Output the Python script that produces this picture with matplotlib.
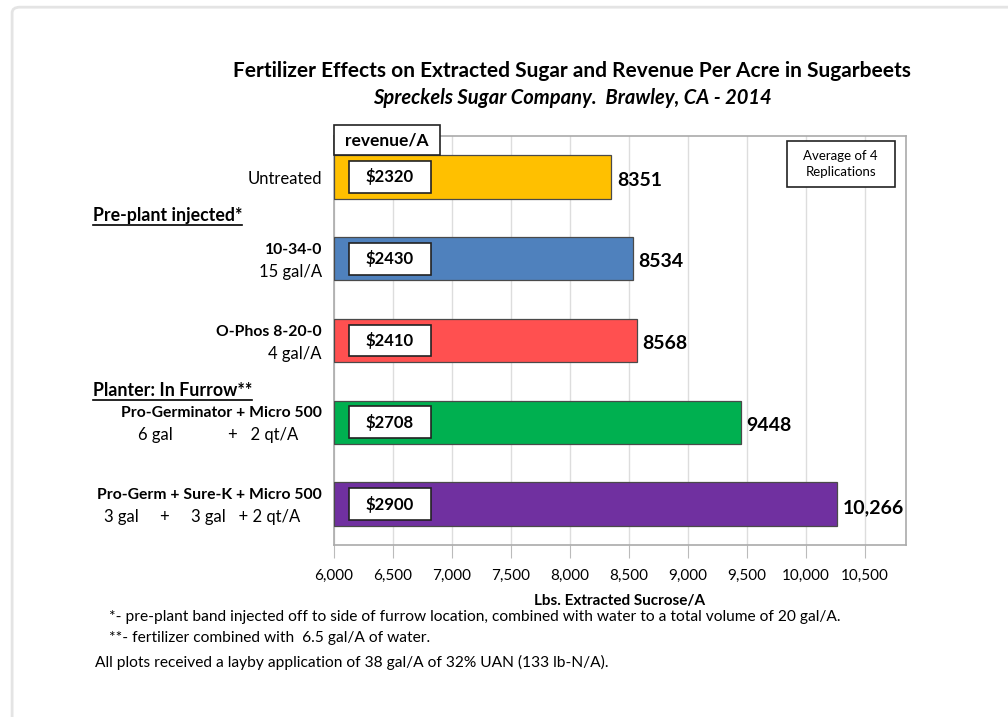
import matplotlib
matplotlib.use("Agg")
import matplotlib.pyplot as plt
from matplotlib.patches import Rectangle, FancyBboxPatch
from matplotlib.lines import Line2D

plt.rcParams['font.family'] = ['Lato', 'DejaVu Sans']

# data
line1 = ["Untreated", "10-34-0", "O-Phos 8-20-0", "Pro-Germinator + Micro 500", "Pro-Germ + Sure-K + Micro 500"]
line2 = ["", "15 gal/A", "4 gal/A", "6 gal             +   2 qt/A", "3 gal     +     3 gal   + 2 qt/A"]
sucrose = [8351, 8534, 8568, 9448, 10266]
sucrose_labels = ["8351", "8534", "8568", "9448", "10,266"]
revenue = [2320, 2430, 2410, 2708, 2900]
colors = ["#FFC000", "#4F81BD", "#FF5050", "#00B050", "#7030A0"]
xticks = [6000, 6500, 7000, 7500, 8000, 8500, 9000, 9500, 10000, 10500]

fig = plt.figure(figsize=(10.08, 7.17), dpi=100)
fig.patch.set_facecolor("white")

# light card frame
fig.add_artist(FancyBboxPatch((0.012, -0.05), 1.1, 1.04, boxstyle="round,pad=0,rounding_size=0.008",
                              transform=fig.transFigure, facecolor="none", edgecolor="#e4e4e4", lw=2,
                              zorder=-5))

ax = fig.add_axes([0.3313, 0.2399, 0.5675, 0.5704])
ypos = list(range(len(sucrose)))
ax.barh(ypos, [v - 6000 for v in sucrose], left=6000, height=0.53, color=colors,
        edgecolor="#4a4a4a", linewidth=0.9, zorder=3)

ax.set_xlim(6000, 10850)
ax.set_ylim(4.5, -0.5)
ax.set_xticks(xticks)
ax.set_xticklabels([f"{t:,}" for t in xticks], fontsize=11)
ax.set_yticks([])
ax.grid(axis="x", color="#dddddd", lw=1, zorder=0)
ax.tick_params(axis="x", length=9, color="#bbbbbb", pad=8)
for s in ax.spines.values():
    s.set_color("#aaaaaa")
    s.set_linewidth(1.2)
ax.set_xlabel("Lbs. Extracted Sucrose/A", fontsize=11, fontweight="bold", labelpad=8)

# value labels and revenue boxes
for y, v, lab, r in zip(ypos, sucrose, sucrose_labels, revenue):
    ax.text(v + 50, y + 0.04, lab, va="center", ha="left", fontsize=14, fontweight="bold", zorder=5)
    ax.add_patch(Rectangle((6127, y - 0.195), 695, 0.39, facecolor="white", edgecolor="#222222",
                           lw=1.2, zorder=4))
    ax.text(6475, y, f"${r}", ha="center", va="center", fontsize=12, fontweight="bold", zorder=5)

# revenue/A header box
ax.add_patch(Rectangle((6000, -0.27), 900, -0.365, facecolor="white", edgecolor="#222222",
                       lw=1.2, zorder=6, clip_on=False))
ax.text(6450, -0.45, "revenue/A", ha="center", va="center", fontsize=12.5, fontweight="bold",
        zorder=7, clip_on=False)

# average note
ax.add_patch(Rectangle((9839, -0.44), 915, 0.56, facecolor="white", edgecolor="#222222",
                       lw=1.2, zorder=6))
ax.text(10296, -0.16, "Average of 4\nReplications", ha="center", va="center", fontsize=9.5,
        linespacing=1.45, zorder=7)

# category labels
tr = ax.get_yaxis_transform()
for y, a, b in zip(ypos, line1, line2):
    if b == "":
        ax.text(-0.021, y + 0.02, a, transform=tr, ha="right", va="center", fontsize=12)
    else:
        ax.text(-0.021, y - 0.11, a, transform=tr, ha="right", va="center", fontsize=11.3, fontweight="bold")
        x2 = -0.021 if y < 3 else -0.063
        if y == 4:
            x2 = -0.059
        ax.text(x2, y + 0.16, b, transform=tr, ha="right", va="center", fontsize=12)

# section headers (bold, underlined)
headers = [("Pre-plant injected*", 1 - 215 / 717), ("Planter: In Furrow**", 1 - 390 / 717)]
hdr_texts = []
for txt, yy in headers:
    hdr_texts.append(fig.text(93 / 1008, yy, txt, ha="left", va="center", fontsize=12.8, fontweight="bold"))

# titles
fig.text(572 / 1008, 1 - 71 / 717, "Fertilizer Effects on Extracted Sugar and Revenue Per Acre in Sugarbeets",
         ha="center", va="center", fontsize=15, fontweight="bold")
fig.text(572 / 1008, 1 - 98 / 717, "Spreckels Sugar Company.  Brawley, CA - 2014",
         ha="center", va="center", fontsize=14.5, fontweight="bold", style="italic")

# footnotes
fig.text(109 / 1008, 1 - 617 / 717,
         "*- pre-plant band injected off to side of furrow location, combined with water to a total volume of 20 gal/A.",
         ha="left", va="center", fontsize=11.2)
fig.text(109 / 1008, 1 - 638 / 717, "**- fertilizer combined with  6.5 gal/A of water.",
         ha="left", va="center", fontsize=11.2)
fig.text(95 / 1008, 1 - 662 / 717,
         "All plots received a layby application of 38 gal/A of 32% UAN (133 lb-N/A).",
         ha="left", va="center", fontsize=11.2)

# underline headers
fig.canvas.draw()
inv = fig.transFigure.inverted()
for t in hdr_texts:
    bb = t.get_window_extent()
    (x0, y0), (x1, _) = inv.transform([(bb.x0, bb.y0), (bb.x1, bb.y1)])
    fig.add_artist(Line2D([x0, x1], [y0 - 0.002, y0 - 0.002], transform=fig.transFigure,
                          color="black", lw=1.2))

fig.savefig("out.png", dpi=100)
